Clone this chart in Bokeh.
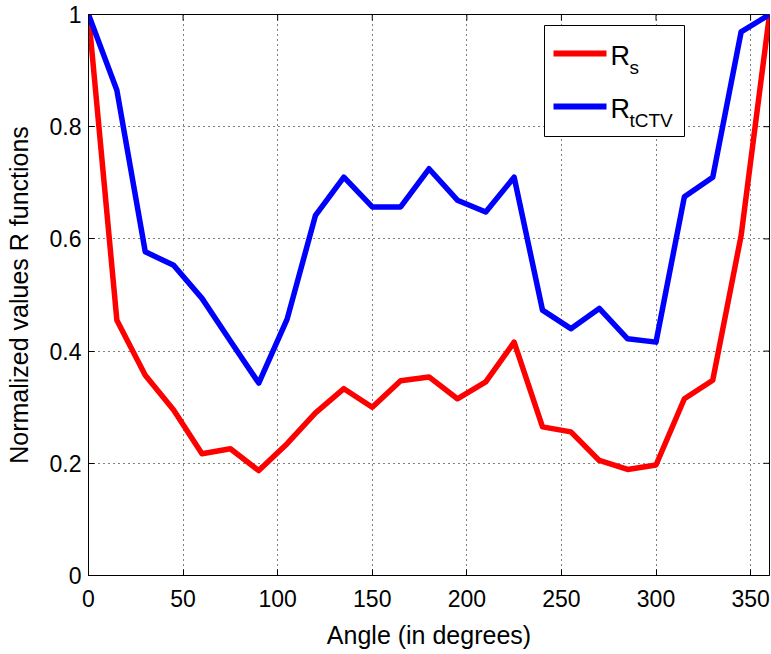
from bokeh.plotting import figure
from bokeh.models import (FixedTicker, Range1d, BoxAnnotation, Label)
from bokeh.embed import file_html
from bokeh.resources import INLINE

# ---- data ----
angles = [0, 15, 30, 45, 60, 75, 90, 105, 120, 135, 150, 165, 180,
          195, 210, 225, 240, 255, 270, 285, 300, 315, 330, 345, 360]
r_s = [1.0, 0.455, 0.357, 0.295, 0.217, 0.226, 0.187, 0.235, 0.290, 0.333,
       0.300, 0.347, 0.354, 0.315, 0.345, 0.416, 0.265, 0.256, 0.205, 0.189,
       0.197, 0.315, 0.348, 0.606, 1.0]
r_tctv = [1.0, 0.865, 0.577, 0.553, 0.494, 0.418, 0.343, 0.457, 0.642, 0.710,
          0.657, 0.657, 0.725, 0.669, 0.648, 0.710, 0.473, 0.440, 0.476, 0.422,
          0.416, 0.675, 0.710, 0.969, 1.0]
x_ticks = [0, 50, 100, 150, 200, 250, 300, 350]
x_tick_labels = ["0", "50", "100", "150", "200", "250", "300", "350"]
y_ticks = [0, 0.2, 0.4, 0.6, 0.8, 1]
y_tick_labels = ["0", "0.2", "0.4", "0.6", "0.8", "1"]
x_label = "Angle (in degrees)"
y_label = "Normalized values R functions"
series_names = [("R", "s"), ("R", "tCTV")]
series_colors = ["#ff0000", "#0000ff"]

FONT = "Liberation Sans"
TICK_SIZE = "23px"
LABEL_SIZE = "25px"

x_min, x_max = 0, 360
y_min, y_max = 0, 1

p = figure(width=771, height=654, output_backend="svg", toolbar_location=None,
           x_range=Range1d(x_min, x_max), y_range=Range1d(y_min, y_max),
           min_border_left=88, min_border_right=2, min_border_top=14,
           min_border_bottom=79, x_axis_label=x_label, y_axis_label=y_label)
p.background_fill_color = "white"
p.border_fill_color = "white"
p.outline_line_color = "black"
p.outline_line_width = 1

for ax, ticks, labels in ((p.xaxis[0], x_ticks, x_tick_labels),
                          (p.yaxis[0], y_ticks, y_tick_labels)):
    ax.ticker = FixedTicker(ticks=ticks)
    ax.major_label_overrides = {t: l for t, l in zip(ticks, labels)}
    ax.major_tick_in = 6
    ax.major_tick_out = 0
    ax.minor_tick_line_color = None
    ax.axis_line_color = "black"
    ax.major_tick_line_color = "black"
    ax.major_label_text_font = FONT
    ax.major_label_text_font_size = TICK_SIZE
    ax.major_label_text_color = "black"
    ax.axis_label_text_font = FONT
    ax.axis_label_text_font_size = LABEL_SIZE
    ax.axis_label_text_font_style = "normal"
    ax.axis_label_text_color = "black"

p.xaxis[0].major_label_standoff = 14
p.xaxis[0].axis_label_standoff = 11
p.yaxis[0].major_label_standoff = 7
p.yaxis[0].axis_label_standoff = 14

# grid
for g in (p.xgrid[0], p.ygrid[0]):
    g.grid_line_color = "black"
    g.grid_line_alpha = 1.0
    g.grid_line_dash = "1 4"
    g.grid_line_width = 1
p.xgrid[0].ticker = FixedTicker(ticks=x_ticks)
p.ygrid[0].ticker = FixedTicker(ticks=y_ticks)

# mirrored inward ticks on the top and right frame edges (clipped to frame)
p.scatter(x_ticks, [y_max] * len(x_ticks), marker="dash", size=12,
          angle=1.5707963, line_color="black", line_width=1)
p.scatter([x_max] * len(y_ticks), y_ticks, marker="dash", size=12,
          line_color="black", line_width=1)

# lines
p.line(angles, r_s, line_color=series_colors[0], line_width=5.5, line_join="round")
p.line(angles, r_tctv, line_color=series_colors[1], line_width=5.5, line_join="round")

# legend (screen units relative to frame bottom-left)
p.add_layout(BoxAnnotation(left=456, right=596, bottom=439, top=550,
                           left_units="screen", right_units="screen",
                           bottom_units="screen", top_units="screen",
                           fill_color="white", fill_alpha=1.0,
                           line_color="black", line_width=1, line_alpha=1.0))
row_y = [522, 469]
for (main, sub), color, y in zip(series_names, series_colors, row_y):
    p.add_layout(BoxAnnotation(left=465, right=518, bottom=y - 3, top=y + 3,
                               left_units="screen", right_units="screen",
                               bottom_units="screen", top_units="screen",
                               fill_color=color, fill_alpha=1.0,
                               line_color=None))
    p.add_layout(Label(x=522, y=y - 2, x_units="screen", y_units="screen",
                       text=main, text_font=FONT, text_font_size="27px",
                       text_color="black", text_baseline="alphabetic",
                       text_align="left"))
    p.add_layout(Label(x=541, y=y - 14, x_units="screen", y_units="screen",
                       text=sub, text_font=FONT, text_font_size="19px",
                       text_color="black", text_baseline="alphabetic",
                       text_align="left"))

open("out.html", "w").write(file_html(p, INLINE))
